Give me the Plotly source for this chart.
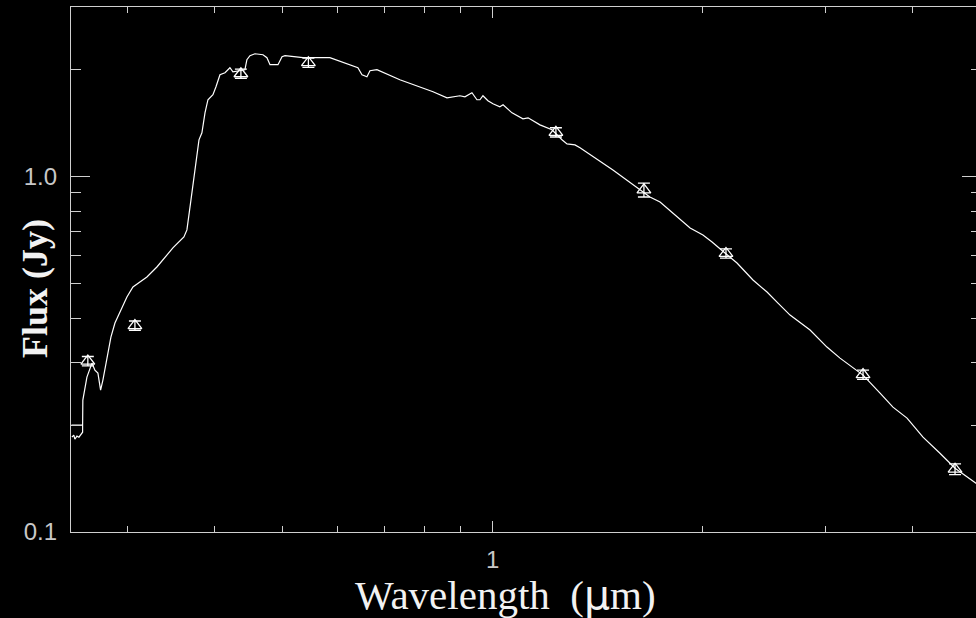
import plotly.graph_objects as go

# Model spectrum (wavelength in micron, flux in Jy)
spec_wl = [0.2496, 0.2512, 0.2521, 0.2538, 0.2555, 0.2572, 0.2586, 0.2586, 0.2492, 0.2586,
           0.2588, 0.2623, 0.2667, 0.2693, 0.2720, 0.2744, 0.2765, 0.2802, 0.2839, 0.2877,
           0.2934, 0.2993, 0.3053, 0.3197, 0.3304, 0.3415, 0.3483, 0.3612, 0.3648, 0.3697,
           0.3746, 0.3796, 0.3833, 0.3872, 0.3910, 0.3949, 0.3975, 0.4015, 0.4068, 0.4136,
           0.4204, 0.4246, 0.4317, 0.4417, 0.4446, 0.4491, 0.4566, 0.4688, 0.4750, 0.4798,
           0.4926, 0.4992, 0.5042, 0.5176, 0.5349, 0.5846, 0.6003, 0.6307, 0.6412, 0.6499,
           0.6606, 0.6672, 0.6827, 0.7363, 0.7792, 0.8215, 0.8602, 0.8772, 0.8977, 0.9127,
           0.9340, 0.9495, 0.9590, 0.9685, 0.9846, 1.001, 1.024, 1.035, 1.066, 1.105,
           1.124, 1.169, 1.216, 1.257, 1.278, 1.312, 1.334, 1.487, 1.609, 1.680,
           1.737, 1.813, 1.873, 1.918, 2.001, 2.062, 2.152, 2.239, 2.360, 2.472,
           2.563, 2.667, 2.849, 3.012, 3.145, 3.393, 3.589, 3.745, 3.923, 4.135,
           4.373, 4.596, 4.925, 5.000]
spec_flux = [0.1848, 0.1873, 0.1824, 0.1861, 0.1848, 0.1885, 0.1909, 0.1998, 0.1998, 0.1998,
             0.2350, 0.2728, 0.2987, 0.2854, 0.2799, 0.2507, 0.2675, 0.3046, 0.3535, 0.3872,
             0.4212, 0.4583, 0.4890, 0.5219, 0.5567, 0.6017, 0.6298, 0.6764, 0.7079, 0.8598,
             1.044, 1.269, 1.328, 1.511, 1.645, 1.677, 1.699, 1.789, 1.934, 1.959,
             2.024, 1.972, 1.985, 1.998, 2.132, 2.188, 2.216, 2.202, 2.160, 2.064,
             2.064, 2.174, 2.188, 2.174, 2.160, 2.160, 2.118, 2.050, 2.024, 1.934,
             1.909, 1.985, 1.998, 1.873, 1.801, 1.732, 1.666, 1.677, 1.688, 1.677,
             1.721, 1.645, 1.645, 1.688, 1.634, 1.602, 1.572, 1.592, 1.511, 1.454,
             1.463, 1.398, 1.354, 1.269, 1.236, 1.228, 1.205, 1.044, 0.9354, 0.8765,
             0.8485, 0.7902, 0.7455, 0.7168, 0.6850, 0.6546, 0.6095, 0.5713, 0.5117, 0.4734,
             0.4407, 0.4077, 0.3700, 0.3314, 0.3085, 0.2763, 0.2459, 0.2245, 0.2091, 0.1848,
             0.1666, 0.1512, 0.1372, 0.1340]

# Photometry
phot_wl = [0.2631, 0.3073, 0.4359, 0.5446, 1.232, 1.647, 2.159, 3.393, 4.596]
phot_flux = [0.3026, 0.3809, 1.947, 2.091, 1.332, 0.9174, 0.6077, 0.2772, 0.1502]
phot_err_pct = [3.0, 3.0, 3.0, 3.0, 3.0, 4.5, 3.0, 3.0, 3.5]

# Axis ticks
x_major = [1]
x_major_text = ["1"]
x_minor = [0.3, 0.4, 0.5, 0.6, 0.7, 0.8, 0.9, 2, 3, 4]
y_major = [0.1, 1.0]
y_major_text = ["0.1", "1.0"]
y_minor = [0.2, 0.3, 0.4, 0.5, 0.6, 0.7, 0.8, 0.9, 2]

axc = "#cfcfcf"
txtc = "#c8c8c8"

phot_err = [f * p / 100 for f, p in zip(phot_flux, phot_err_pct)]

fig = go.Figure()
fig.add_trace(go.Scatter(x=spec_wl, y=spec_flux, mode="lines",
                         line=dict(color="white", width=1.2), hoverinfo="skip"))
fig.add_trace(go.Scatter(
    x=phot_wl, y=phot_flux, mode="markers",
    marker=dict(symbol="triangle-up-open", size=12, color="white", line=dict(width=1.3, color="white")),
    error_y=dict(type="data", array=phot_err, color="white", thickness=1.3, width=6, visible=True),
))
# invisible helper trace so the right-hand tick axis is drawn
fig.add_trace(go.Scatter(x=spec_wl, y=spec_flux, yaxis="y2", mode="lines",
                         line=dict(width=0, color="black"), opacity=0, hoverinfo="skip"))

fig.update_layout(
    width=976, height=618,
    paper_bgcolor="black", plot_bgcolor="black",
    margin=dict(l=71, r=0, t=7, b=86),
    showlegend=False,
    xaxis=dict(type="log", range=[-0.604, 0.6924], showline=True, linecolor=axc, linewidth=1.2,
               mirror="ticks", ticks="inside", ticklen=11, tickwidth=1.2, tickcolor=axc,
               tickmode="array", tickvals=x_major, ticktext=x_major_text,
               tickfont=dict(family="Liberation Sans", size=24, color=txtc),
               ticklabelstandoff=6,
               showgrid=False, zeroline=False,
               minor=dict(tickmode="array", tickvals=x_minor, ticks="inside", ticklen=6,
                          tickwidth=1.2, tickcolor=axc, showgrid=False)),
    yaxis=dict(type="log", range=[-1, 0.4771], showline=True, linecolor=axc, linewidth=1.2,
               mirror=False, ticks="inside", ticklen=19, tickwidth=1.2, tickcolor=axc,
               tickmode="array", tickvals=y_major, ticktext=y_major_text,
               tickfont=dict(family="Liberation Sans", size=24, color=txtc),
               ticklabelstandoff=8,
               showgrid=False, zeroline=False,
               minor=dict(tickmode="array", tickvals=y_minor, ticks="inside", ticklen=10,
                          tickwidth=1.2, tickcolor=axc, showgrid=False)),
    yaxis2=dict(type="log", range=[-1, 0.4771], overlaying="y", side="right", anchor="x",
                showline=False, ticks="inside", ticklen=14, tickwidth=1.2, tickcolor=axc,
                tickmode="array", tickvals=[1.0], showticklabels=False,
                showgrid=False, zeroline=False,
                minor=dict(tickmode="array", tickvals=y_minor, ticks="inside", ticklen=5,
                           tickwidth=1.2, tickcolor=axc, showgrid=False)),
    annotations=[
        dict(text="Wavelength\u00a0 (<span style=\"font-family:'DejaVu Sans'\">\u03bc</span>m)",
             xref="paper", yref="paper",
             x=0.4796, y=-0.12, xanchor="center", yanchor="middle", showarrow=False,
             font=dict(family="Liberation Serif", size=41, color="#f2f2f2")),
        dict(text="<b>Flux (Jy)</b>", xref="paper", yref="paper", textangle=-90,
             x=-0.0398, y=0.4648, xanchor="center", yanchor="middle", showarrow=False,
             font=dict(family="Liberation Serif", size=36, color="#f2f2f2")),
    ],
)

fig.write_html("out.html", config={"displayModeBar": False},
               post_script="document.body.style.margin='0';document.body.style.background='black';")
